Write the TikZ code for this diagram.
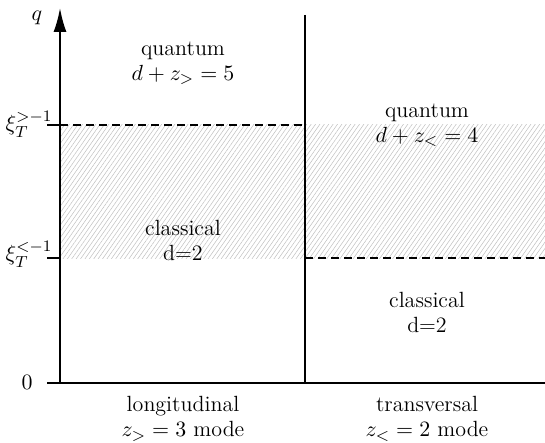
\documentclass[tikz,border=0pt]{standalone}
\usetikzlibrary{patterns.meta,arrows.meta}
\begin{document}
\begin{tikzpicture}[x=0.5pt,y=-0.5pt,
  axis/.style={line width=0.9pt},
  dashline/.style={line width=0.75pt,dash pattern=on 4pt off 2.5pt},
  hatch/.style={pattern={Lines[angle=55,distance=1.8pt,line width=0.25pt]},pattern color=black!25},
  lbl/.style={align=center,inner sep=0pt,font=\fontsize{11}{12.5}\selectfont}]
\useasboundingbox (0,0) rectangle (545,443);
% hatched region
\fill[hatch] (60,125) rectangle (545,258);
% axes
\coordinate (o) at (60,383);
\coordinate (top) at (60,8);
\coordinate (xend) at (545,383);
\draw[axis,-{Latex[length=12pt,width=6.5pt]}] (o) -- (top);
\draw[axis] (47,383) -- (xend);
\coordinate (dtop) at (305,15);
\coordinate (dbot) at (305,383);
\draw[axis] (dtop) -- (dbot);
% ticks
\draw[axis] (47,125) -- (60,125);
\draw[axis] (47,258) -- (60,258);
% dashed
\draw[dashline] (60,125) -- (305,125);
\draw[dashline] (305,258) -- (545,258);
% labels
\node[lbl] (q) at (37,18) {$q$};
\node[lbl] (x1) at (29,124) {$\xi_T^{>-1}$};
\node[lbl] (x2) at (29,254) {$\xi_T^{<-1}$};
\node[lbl] (zero) at (27,382) {$0$};
\node[lbl] (qL) at (183,63) {quantum\\[0pt]$d+z_>=5$};
\node[lbl] (cL) at (183,240) {classical\\[0pt]d=2};
\node[lbl] (qR) at (427,125) {quantum\\[0pt]$d+z_<=4$};
\node[lbl] (cR) at (427,312) {classical\\[0pt]d=2};
\node[lbl] (bL) at (183,419) {longitudinal\\[0pt]$z_>=3$ mode};
\node[lbl] (bR) at (427,419) {transversal\\[0pt]$z_<=2$ mode};
\end{tikzpicture}
\end{document}
